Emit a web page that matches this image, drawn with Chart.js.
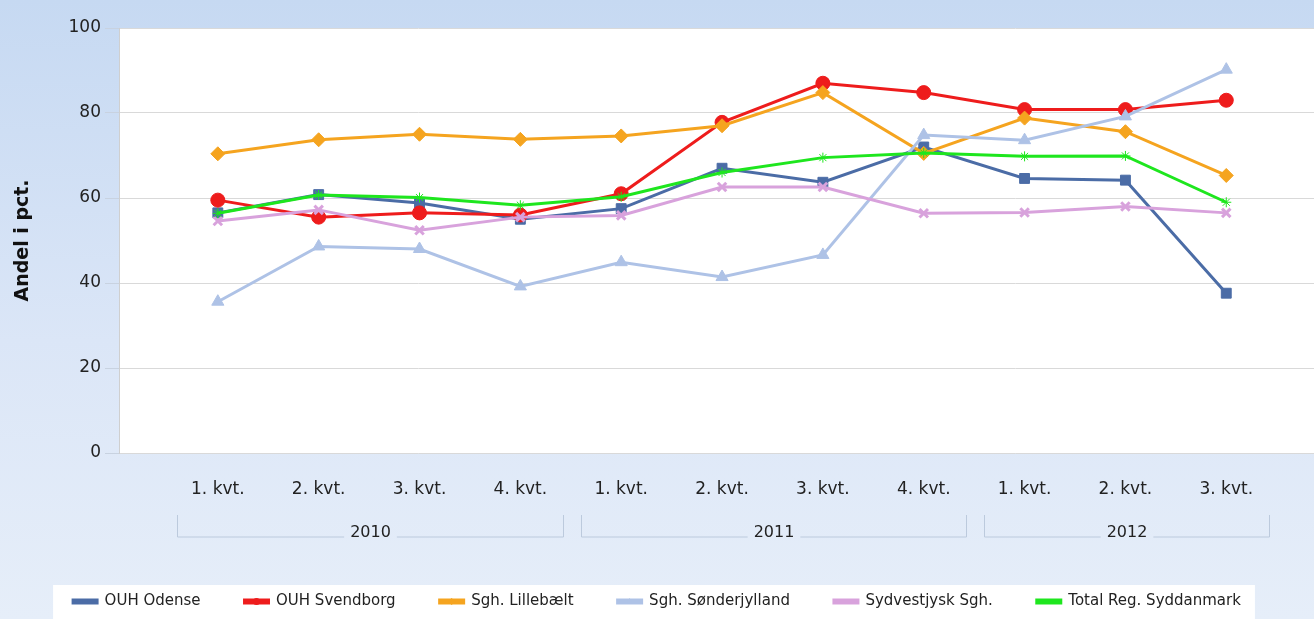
<!DOCTYPE html>
<html>
<head>
<meta charset="utf-8">
<script src="https://cdn.jsdelivr.net/npm/chart.js@4.4.1/dist/chart.umd.min.js"></script>
<style>
  html, body { margin: 0; padding: 0; overflow: hidden; }
  body { background: linear-gradient(#c6d9f2 0%, #dbe6f7 55%, #e6eef9 100%); }
  #wrap { width: 1314px; height: 619px; position: relative; }
</style>
</head>
<body>
<div id="wrap"><canvas id="chart"></canvas></div>
<script>
// quarters along the x axis, grouped by year
const quarters = ['1. kvt.', '2. kvt.', '3. kvt.', '4. kvt.', '1. kvt.', '2. kvt.', '3. kvt.', '4. kvt.', '1. kvt.', '2. kvt.', '3. kvt.'];
const years = ['2010', '2011', '2012'];
const yearFirst = [0, 4, 8];
const yearLast = [3, 7, 10];

const seriesNames = ['OUH Odense', 'OUH Svendborg', 'Sgh. Lillebælt', 'Sgh. Sønderjylland', 'Sydvestjysk Sgh.', 'Total Reg. Syddanmark'];
const odense = [56.5, 60.8, 58.8, 55.0, 57.5, 67.0, 63.7, 72.0, 64.6, 64.2, 37.6];
const svendborg = [59.5, 55.5, 56.5, 56.0, 61.0, 77.8, 87.0, 84.8, 80.8, 80.8, 83.0];
const lillebaelt = [70.4, 73.7, 75.0, 73.8, 74.6, 77.0, 84.8, 70.5, 78.8, 75.6, 65.3];
const sonderjylland = [35.6, 48.6, 48.0, 39.2, 44.9, 41.4, 46.6, 74.8, 73.6, 79.2, 90.2];
const sydvestjysk = [54.6, 57.2, 52.4, 55.5, 55.9, 62.6, 62.6, 56.4, 56.6, 58.0, 56.5];
const total = [56.4, 60.7, 60.1, 58.3, 60.3, 66.0, 69.5, 70.6, 69.8, 69.9, 59.0];

const yTicks = [0, 20, 40, 60, 80, 100];

const colors = ['#4b6ca6', '#ee1c1c', '#f5a41f', '#aec2e6', '#d8a2dc', '#1ee61e'];
const styles = [
  { pointStyle: 'rect', pointRadius: 7 },
  { pointStyle: 'circle', pointRadius: 7 },
  { pointStyle: 'rectRot', pointRadius: 7 },
  { pointStyle: 'triangle', pointRadius: 7 },
  { pointStyle: 'crossRot', pointRadius: 6 },
  { pointStyle: 'star', pointRadius: 5 }
];
const allSeries = [odense, svendborg, lillebaelt, sonderjylland, sydvestjysk, total];

const FONT = "'DejaVu Sans', sans-serif";

// white plot area + legend box
const backdrop = {
  id: 'backdrop',
  beforeDraw(chart) {
    const { ctx, chartArea: a } = chart;
    ctx.save();
    ctx.fillStyle = '#ffffff';
    ctx.fillRect(a.left, a.top, a.right - a.left, a.bottom - a.top);
    const boxes = chart.legend.legendHitBoxes;
    if (boxes && boxes.length) {
      const l = boxes[0].left - 20;
      const last = boxes[boxes.length - 1];
      const r = last.left + last.width + 14;
      const t = boxes[0].top - 9;
      ctx.fillRect(l, t, r - l, chart.height - t);
    }
    ctx.restore();
  },
  // small marker in the middle of each legend line
  afterDraw(chart) {
    const { ctx } = chart;
    const boxes = chart.legend.legendHitBoxes || [];
    boxes.forEach((b, i) => {
      const ds = chart.data.datasets[i];
      ctx.save();
      ctx.fillStyle = ds.pointBackgroundColor;
      ctx.strokeStyle = ds.pointBorderColor;
      ctx.lineWidth = i === 4 ? 2 : 1;
      Chart.helpers.drawPoint(ctx, { pointStyle: ds.pointStyle, radius: 3.5, rotation: 0 },
        b.left + 12, b.top + b.height / 2);
      ctx.restore();
    });
  }
};

// year brackets under the quarter labels
const yearGroups = {
  id: 'yearGroups',
  afterDraw(chart) {
    const { ctx } = chart;
    const x = chart.scales.x;
    const top = 515, base = 537, textY = 533;
    ctx.save();
    ctx.font = '16px ' + FONT;
    ctx.textAlign = 'center';
    ctx.textBaseline = 'middle';
    years.forEach((yr, i) => {
      const l = Math.round(x.getPixelForValue(yearFirst[i] - 0.4)) + 0.5;
      const r = Math.round(x.getPixelForValue(yearLast[i] + 0.42)) + 0.5;
      const c = (l + r) / 2;
      const tw = ctx.measureText(yr).width / 2 + 6;
      ctx.strokeStyle = '#bccadd';
      ctx.lineWidth = 1;
      ctx.beginPath();
      ctx.moveTo(l, top); ctx.lineTo(l, base); ctx.lineTo(c - tw, base);
      ctx.moveTo(c + tw, base); ctx.lineTo(r, base); ctx.lineTo(r, top);
      ctx.stroke();
      ctx.fillStyle = '#222';
      ctx.fillText(yr, c, textY);
    });
    ctx.restore();
  }
};

new Chart(document.getElementById('chart'), {
  type: 'line',
  data: {
    datasets: allSeries.map((vals, i) => ({
      label: seriesNames[i],
      data: vals.map((v, j) => ({ x: j, y: v })),
      borderColor: colors[i],
      backgroundColor: colors[i],
      pointBackgroundColor: colors[i],
      pointBorderColor: colors[i],
      pointBorderWidth: i === 4 ? 3 : 1,
      borderWidth: 3,
      order: allSeries.length - i,
      ...styles[i]
    }))
  },
  options: {
    responsive: true,
    maintainAspectRatio: false,
    animation: false,
    layout: { autoPadding: false, padding: { top: 28, left: 0, right: 0, bottom: 0 } },
    scales: {
      x: {
        type: 'linear',
        min: -0.98,
        max: 10.87,
        grid: { display: false },
        border: { display: false },
        afterBuildTicks: s => { s.ticks = quarters.map((q, i) => ({ value: i })); },
        afterFit: s => { s.height = 97; },
        ticks: {
          autoSkip: false,
          maxRotation: 0,
          padding: 18,
          color: '#222',
          font: { family: FONT, size: 17 },
          callback: v => quarters[v]
        }
      },
      y: {
        min: 0,
        max: 100,
        afterBuildTicks: s => { s.ticks = yTicks.map(v => ({ value: v })); },
        afterFit: s => { s.width = 119; },
        grid: { color: '#d9d9d9', tickLength: 14, tickColor: '#c8d2e0' },
        border: { color: '#cfcfcf' },
        ticks: { padding: 4, color: '#222', font: { family: FONT, size: 17 } },
        title: {
          display: true,
          text: 'Andel i pct.',
          color: '#111',
          font: { family: FONT, size: 19, weight: 'bold' },
          padding: { top: 12, bottom: 0 }
        }
      }
    },
    plugins: {
      legend: {
        position: 'bottom',
        labels: {
          sort: (a, b) => a.datasetIndex - b.datasetIndex,
          boxWidth: 24,
          boxHeight: 3,
          padding: 44,
          color: '#222',
          font: { family: FONT, size: 15 }
        }
      },
      tooltip: { enabled: false }
    }
  },
  plugins: [backdrop, yearGroups]
});
</script>
</body>
</html>
